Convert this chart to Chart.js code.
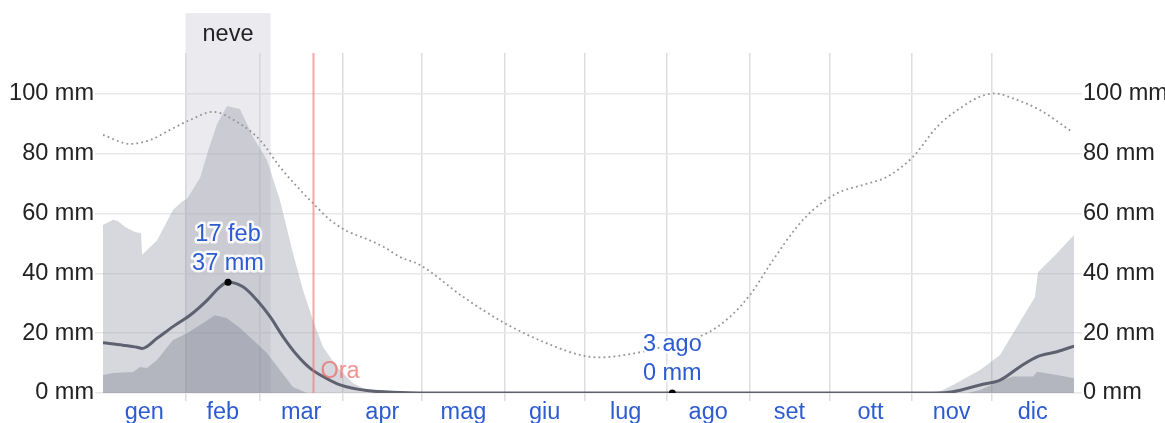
<!DOCTYPE html>
<html>
<head>
<meta charset="utf-8">
<script src="https://cdn.jsdelivr.net/npm/chart.js@4/dist/chart.umd.min.js"></script>
<style>
  html, body { margin: 0; padding: 0; background: #fff; overflow: hidden; }
  #wrap { width: 1165px; height: 423px; position: relative; }
</style>
</head>
<body>
<div id="wrap"><canvas id="c" width="1165" height="423"></canvas></div>
<script>
// Day-of-year positions (0 = 1 gen) and snowfall values in mm.
const monthNames = ['gen', 'feb', 'mar', 'apr', 'mag', 'giu', 'lug', 'ago', 'set', 'ott', 'nov', 'dic'];
const monthStarts = [0, 31, 59, 90, 120, 151, 181, 212, 243, 273, 304, 334, 365];
const yTickValues = [0, 20, 40, 60, 80, 100];

// 90th percentile band
const upperDays = [0, 3.8, 5.6, 8.3, 12.0, 13.9, 14.3, 14.7, 20.3, 26.3, 29.7, 31.6, 36.5, 39.5, 42.9, 46.6, 51.5, 56.4, 61.6, 66.5, 71.4, 75.2, 78.9, 82.7, 88.0, 94.0, 99.2, 106, 111.6, 313.5, 319.5, 329.7, 337.2, 342.1, 350.3, 351.5, 358.6, 365];
const upperVals = [56.2, 57.9, 57.5, 55.5, 53.8, 53.5, 53.3, 46.2, 51, 61.2, 64, 65, 72, 81, 90, 96, 95, 85.6, 78, 64.5, 46.8, 34.4, 24.4, 15.4, 8.7, 3.3, 1, 0.3, 0, 0, 2.7, 7.7, 12.7, 20, 32, 40.5, 46.7, 52.8];

// 10th percentile band
const lowerDays = [0, 3.8, 11.3, 13.9, 16.5, 20.3, 26.3, 31.6, 36.5, 42.1, 46.6, 51.5, 56.4, 61.6, 66.5, 71.4, 76.7, 324.8, 329.7, 337.2, 342.1, 349.6, 351.1, 358.6, 365];
const lowerVals = [6, 6.7, 7, 8.7, 8.4, 11, 17.7, 20, 22.7, 26, 25, 21.7, 17.7, 13.4, 7.7, 2, 0, 0, 1, 4, 5.5, 5.5, 7.1, 6, 4.9];

// Median snowfall
const medianDays = [0, 7.5, 12.8, 14.7, 20.3, 26.3, 32.7, 39.1, 44.0, 47, 52.6, 57.9, 62.8, 67.7, 72.9, 77.8, 82.7, 89.1, 99.2, 111.6, 126.7, 214, 312, 319.5, 329.7, 337.2, 344.7, 351.1, 358.6, 365];
const medianVals = [16.8, 16, 15.3, 14.9, 18.3, 22.2, 26, 31, 35.5, 37, 35.5, 31, 25.5, 18.8, 12.7, 8.3, 5.5, 2.7, 0.8, 0.2, 0, 0, 0, 0.4, 2.7, 4.3, 8.8, 12.1, 13.8, 15.7];

// Dotted reference curve
const dottedDays = [0, 10.1, 17.7, 25.2, 32.7, 41.3, 51.5, 59, 66.5, 74, 78.9, 85.3, 91, 100.4, 105.2, 111.6, 119.2, 135.3, 151.1, 166.9, 180.8, 186.8, 198.1, 210.5, 227, 235.7, 243.2, 251.9, 260.9, 266.9, 275.9, 285.7, 294.7, 304.5, 313.5, 322.1, 329.7, 335.3, 342.1, 352.2, 364.2];
const dottedVals = [86.3, 83.3, 84.6, 88, 91.3, 94, 90, 84.6, 75.6, 68, 63.5, 57.9, 54.5, 51, 49, 45.5, 42.8, 32.2, 23.3, 16.6, 12.4, 11.9, 13, 15.5, 20, 25.5, 32.8, 44.5, 55.6, 61.2, 66.8, 69.6, 72.3, 79, 89, 95.2, 99.1, 100.2, 98.5, 94.6, 87.4];

// Highlighted days: maximum and minimum of the median
const markDays = [47, 214];
const markVals = [37, 0];
const markLabels = ['17 feb', '3 ago'];

// Snowiest-month window and today's marker
const snowWindow = [31, 63];
const snowLabel = 'neve';
const todayDay = 79;
const todayLabel = 'Ora';

const FONT = '"Liberation Sans", Arial, sans-serif';
const FSIZE = 23.5;
const BLUE = '#2d5bd2';

const pts = (xs, ys) => xs.map((d, i) => ({ x: d, y: ys[i] }));
const monthMids = monthNames.map((_, i) => (monthStarts[i] + monthStarts[i + 1]) / 2);
const xTickValues = monthStarts.concat(monthMids).sort((a, b) => a - b);
const isInnerBoundary = v => monthStarts.includes(v) && v !== 0 && v !== 365;

const overlay = {
  id: 'overlay',
  beforeDatasetsDraw(chart) {
    const { ctx, chartArea, scales: { x } } = chart;
    const x0 = x.getPixelForValue(snowWindow[0]);
    const x1 = x.getPixelForValue(snowWindow[1]);
    ctx.save();
    ctx.fillStyle = 'rgba(205,205,214,0.4)';
    ctx.fillRect(x0, 13, x1 - x0, chartArea.bottom - 13);
    ctx.fillStyle = '#222';
    ctx.font = FSIZE + 'px ' + FONT;
    ctx.textAlign = 'center';
    ctx.textBaseline = 'middle';
    ctx.fillText(snowLabel, (x0 + x1) / 2, 35);
    ctx.restore();
  },
  afterDatasetsDraw(chart) {
    const { ctx, chartArea, scales: { x, y } } = chart;
    ctx.save();
    // today line
    const ox = Math.round(x.getPixelForValue(todayDay)) + 0.5;
    ctx.strokeStyle = 'rgba(242,110,110,0.6)';
    ctx.lineWidth = 2;
    ctx.beginPath();
    ctx.moveTo(ox, chartArea.top);
    ctx.lineTo(ox, chartArea.bottom);
    ctx.stroke();
    ctx.font = FSIZE + 'px ' + FONT;
    ctx.textAlign = 'left';
    ctx.textBaseline = 'middle';
    ctx.fillStyle = 'rgba(240,100,100,0.7)';
    ctx.fillText(todayLabel, ox + 7, chartArea.bottom - 21);

    // value labels above the highlighted points
    ctx.textAlign = 'center';
    ctx.lineJoin = 'round';
    markDays.forEach((d, i) => {
      const px = x.getPixelForValue(d);
      const py = y.getPixelForValue(markVals[i]);
      const lines = [markLabels[i], markVals[i] + ' mm'];
      lines.forEach((t, j) => {
        const ty = py - 48 + j * 29;
        ctx.strokeStyle = 'rgba(255,255,255,0.9)';
        ctx.lineWidth = 5;
        ctx.strokeText(t, px, ty);
        ctx.fillStyle = BLUE;
        ctx.fillText(t, px, ty);
      });
    });
    ctx.restore();
  }
};

const yAxisCommon = {
  type: 'linear',
  min: 0,
  max: 113.7,
  afterBuildTicks(s) { s.ticks = yTickValues.map(v => ({ value: v })); },
  border: { display: false },
  ticks: {
    padding: 1,
    color: '#222',
    font: { family: FONT, size: FSIZE },
    callback: v => v + ' mm'
  }
};

new Chart(document.getElementById('c'), {
  type: 'line',
  data: {
    datasets: [
      {
        label: 'marks',
        data: pts(markDays, markVals),
        showLine: false,
        pointRadius: 3.5,
        pointBackgroundColor: '#000',
        pointBorderWidth: 0,
        yAxisID: 'y'
      },
      {
        label: 'dotted',
        data: pts(dottedDays, dottedVals),
        borderColor: '#959595',
        borderWidth: 1.8,
        borderDash: [1.8, 3.2],
        cubicInterpolationMode: 'monotone',
        pointRadius: 0,
        fill: false,
        yAxisID: 'y'
      },
      {
        label: 'median',
        data: pts(medianDays, medianVals),
        borderColor: '#5e6170',
        borderWidth: 3,
        cubicInterpolationMode: 'monotone',
        pointRadius: 0,
        fill: false,
        yAxisID: 'y'
      },
      {
        label: 'p10',
        data: pts(lowerDays, lowerVals),
        borderWidth: 0,
        borderColor: 'rgba(0,0,0,0)',
        backgroundColor: 'rgba(100,104,120,0.3)',
        pointRadius: 0,
        tension: 0,
        fill: 'origin',
        yAxisID: 'y'
      },
      {
        label: 'p90',
        data: pts(upperDays, upperVals),
        borderWidth: 0,
        borderColor: 'rgba(0,0,0,0)',
        backgroundColor: 'rgba(150,152,165,0.38)',
        pointRadius: 0,
        tension: 0,
        fill: 'origin',
        yAxisID: 'y'
      }
    ]
  },
  options: {
    responsive: false,
    animation: false,
    layout: { padding: { top: 53, left: 0, right: 0, bottom: 0 } },
    plugins: { legend: { display: false }, tooltip: { enabled: false } },
    scales: {
      x: {
        type: 'linear',
        min: 0,
        max: 365,
        afterBuildTicks(s) { s.ticks = xTickValues.map(v => ({ value: v })); },
        afterFit(s) { s.height = 30; },
        border: { display: false },
        grid: {
          color: c => (c.tick && isInnerBoundary(c.tick.value)) ? '#dedede' : 'rgba(0,0,0,0)',
          tickColor: c => (c.tick && isInnerBoundary(c.tick.value)) ? '#dedede' : 'rgba(0,0,0,0)',
          tickLength: 8,
          lineWidth: 1.5
        },
        ticks: {
          autoSkip: false,
          maxRotation: 0,
          padding: 0,
          color: BLUE,
          font: { family: FONT, size: FSIZE, lineHeight: 1 },
          callback: v => {
            const i = monthMids.indexOf(v);
            return i >= 0 ? monthNames[i] : '';
          }
        }
      },
      y: Object.assign({}, yAxisCommon, {
        position: 'left',
        afterFit(s) { s.width = 103; },
        grid: { color: '#e8e8e8', tickColor: '#e8e8e8', tickLength: 8, lineWidth: 1.5 }
      }),
      y2: Object.assign({}, yAxisCommon, {
        position: 'right',
        afterFit(s) { s.width = 91; },
        grid: { drawOnChartArea: false, color: '#e8e8e8', tickColor: '#e8e8e8', tickLength: 8, lineWidth: 1.5 }
      })
    }
  },
  plugins: [overlay]
});
</script>
</body>
</html>
